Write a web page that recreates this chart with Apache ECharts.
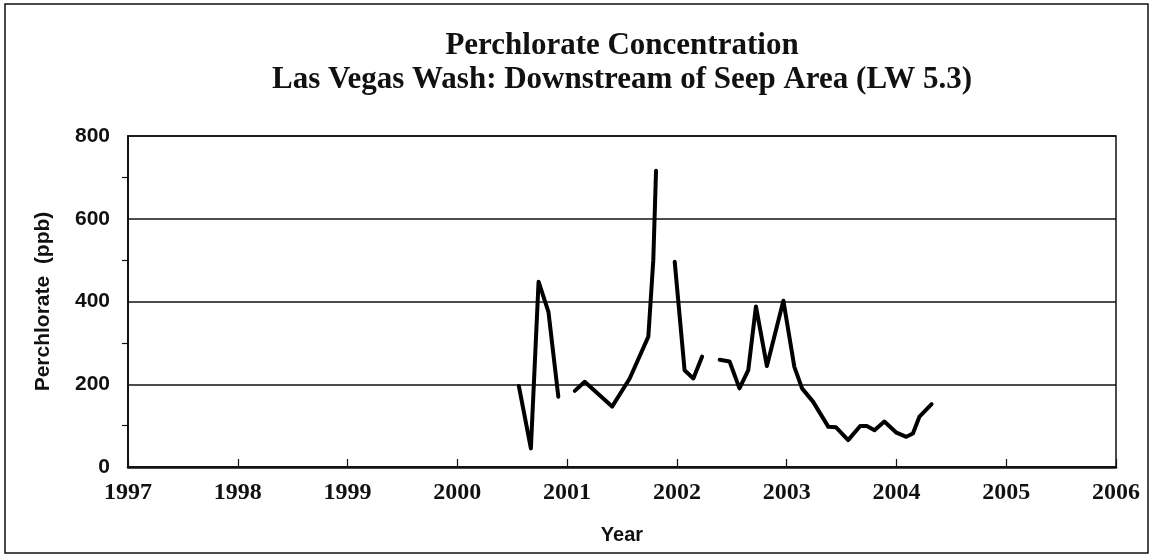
<!DOCTYPE html>
<html>
<head>
<meta charset="utf-8">
<script src="https://cdn.jsdelivr.net/npm/echarts@6/dist/echarts.min.js"></script>
<style>
  html, body { margin: 0; padding: 0; background: #fff; }
  #chart { width: 1153px; height: 558px; }
</style>
</head>
<body>
<div id="chart"></div>
<script>
// sampling dates (decimal year) and perchlorate readings, '-' = no sample (line break)
const sampleYear = [
  2000.56, 2000.67, 2000.74, 2000.83, 2000.92, 2001.0,
  2001.07, 2001.16, 2001.41, 2001.57, 2001.74, 2001.785, 2001.81, 2001.9,
  2001.98, 2002.07, 2002.15, 2002.23, 2002.3,
  2002.39, 2002.48, 2002.57, 2002.65, 2002.72, 2002.82, 2002.97, 2003.07,
  2003.14, 2003.24, 2003.38, 2003.45, 2003.56, 2003.67, 2003.73, 2003.8,
  2003.89, 2004.0, 2004.09, 2004.15, 2004.21, 2004.32
];
const perchlorate = [
  196, 45, 448, 375, 170, "-",
  184, 206, 146, 214, 315, 500, 716, "-",
  496, 234, 214, 267, "-",
  259, 255, 190, 234, 388, 244, 402, 242,
  190, 158, 97, 96, 65, 99, 99, 89,
  110, 83, 73, 81, 122, 152
];
const yearTicks = [1997, 2006];
const ppbTicks = [0, 800, 200];

const seriesData = sampleYear.map((y, i) => [y, perchlorate[i]]);

const chartDom = document.getElementById("chart");
const myChart = echarts.init(chartDom);

const option = {
  animation: false,
  backgroundColor: "#fff",
  graphic: [
    {
      type: "rect",
      shape: { x: 5, y: 4, width: 1143, height: 549 },
      style: { fill: "none", stroke: "#111", lineWidth: 1.5 },
    },
    {
      type: "text",
      x: 622,
      y: 29,
      style: {
        text: "Perchlorate Concentration\nLas Vegas Wash: Downstream of Seep Area (LW 5.3)",
        font: "bold 31px 'Liberation Serif', 'Times New Roman', serif",
        fill: "#111",
        align: "center",
        textAlign: "center",
        lineHeight: 34,
      },
    },
  ],
  grid: {
    left: 128,
    right: 37,
    top: 136,
    bottom: 91,
    show: true,
    borderColor: "#111",
    borderWidth: 1.5,
  },
  xAxis: {
    type: "value",
    min: yearTicks[0],
    max: yearTicks[1],
    interval: 1,
    name: "Year",
    nameLocation: "middle",
    nameGap: 58,
    nameTextStyle: {
      fontFamily: "Liberation Sans, Arial, sans-serif",
      fontWeight: "bold",
      fontSize: 20,
      color: "#111",
    },
    axisLine: { lineStyle: { color: "#111", width: 2.5 } },
    axisTick: { inside: true, length: 8, lineStyle: { color: "#111", width: 1.2 } },
    axisLabel: {
      margin: 14,
      fontFamily: "Liberation Serif, Times New Roman, serif",
      fontWeight: "bold",
      fontSize: 24,
      color: "#111",
      formatter: (v) => String(v),
    },
    splitLine: { show: false },
  },
  yAxis: {
    type: "value",
    min: ppbTicks[0],
    max: ppbTicks[1],
    interval: ppbTicks[2],
    name: "Perchlorate  (ppb)",
    nameLocation: "middle",
    nameGap: 74,
    nameTextStyle: {
      fontFamily: "Liberation Sans, Arial, sans-serif",
      fontWeight: "bold",
      fontSize: 21,
      color: "#111",
    },
    axisLine: { show: true, lineStyle: { color: "#111", width: 2 } },
    axisTick: { show: false },
    minorTick: { show: true, splitNumber: 2, length: 6, lineStyle: { color: "#111", width: 1.2 } },
    axisLabel: {
      margin: 18,
      fontFamily: "Liberation Sans, Arial, sans-serif",
      fontWeight: "bold",
      fontSize: 21,
      color: "#111",
    },
    splitLine: { lineStyle: { color: "#111", width: 1.5 } },
  },
  series: [
    {
      name: "LW 5.3",
      type: "line",
      data: seriesData,
      showSymbol: false,
      connectNulls: false,
      lineStyle: { color: "#000", width: 4, join: "round", cap: "round" },
    },
  ],
};

option && myChart.setOption(option);
</script>
</body>
</html>
